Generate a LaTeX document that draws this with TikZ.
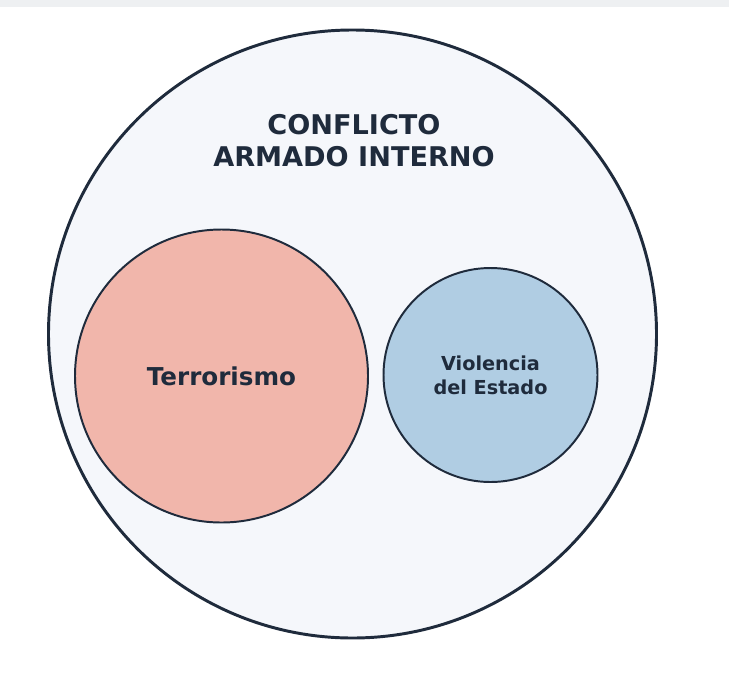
\documentclass[tikz,border=0pt]{standalone}
\usepackage{fontspec}
\setmainfont{DejaVu Sans}
\usepackage{tikz}
\definecolor{edge}{HTML}{1F2B3C}
\definecolor{bgfill}{HTML}{F5F7FB}
\definecolor{terrfill}{HTML}{F1B6AB}
\definecolor{estfill}{HTML}{B0CDE3}
\definecolor{topbar}{HTML}{EEF0F2}
\tikzset{
	setcircle/.style={circle,draw=edge,line width=1.4pt,inner sep=0pt,align=center,text=edge,font=\bfseries},
}

\begin{document}
\begin{tikzpicture}
	\useasboundingbox (0,0) rectangle (18.225,-16.8);
	\fill[topbar] (0,0) rectangle (18.225,-0.18);
	
	%OUTER CIRCLE
	\node[setcircle,fill=bgfill,line width=2.1pt,minimum size=15.2cm] (conflicto) at (8.8125,-8.35) {};
	\node[text=edge,align=center,font=\fontsize{19.3}{22.8}\selectfont\bfseries] (titulo) at (8.85,-3.525) {CONFLICTO\\ARMADO INTERNO};
	
	%INNER CIRCLES
	\node[setcircle,fill=terrfill,minimum size=7.325cm,font=\fontsize{17.5}{20}\selectfont\bfseries] (terror) at (5.5375,-9.4) {Terrorismo};
	\node[setcircle,fill=estfill,minimum size=5.35cm,font=\fontsize{13.7}{17}\selectfont\bfseries] (estado) at (12.2625,-9.375) {Violencia\\del Estado};
\end{tikzpicture}
\end{document}
